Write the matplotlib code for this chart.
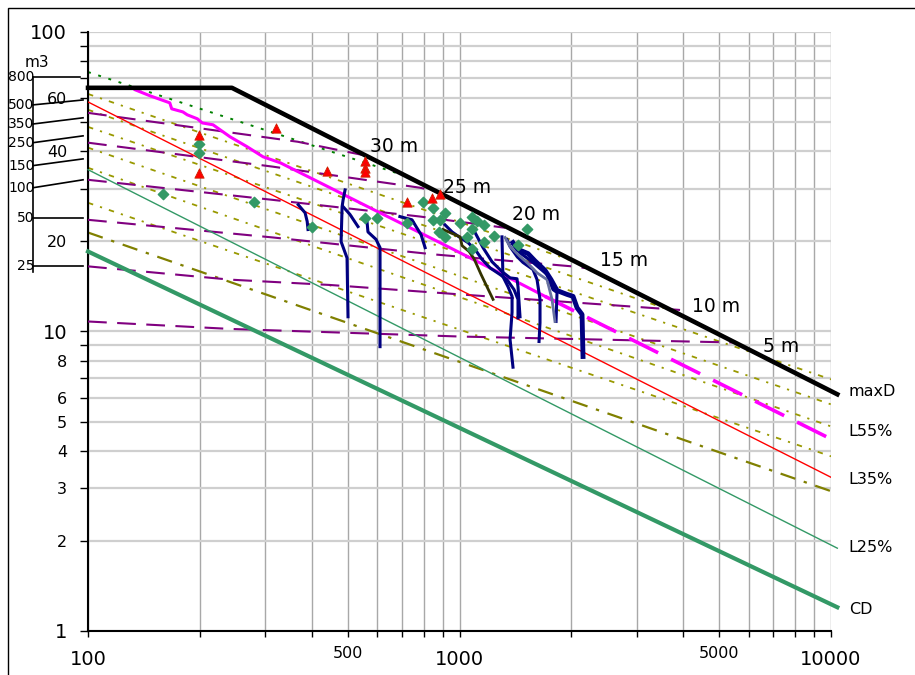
import matplotlib
matplotlib.use("Agg")
import matplotlib.pyplot as plt
import matplotlib.transforms as mtransforms
from matplotlib.patches import Rectangle
from matplotlib.ticker import FixedLocator, FuncFormatter

# ---- envelope / reference lines (x, y on log-log) ----
maxd_x = [100, 244, 10400]
maxd_y = [65.1, 65.1, 6.17]

l55_x = [134, 147, 166, 168, 180, 185, 197, 203, 217, 241, 268, 296, 329, 421, 611, 886, 1208, 1699]
l55_y = [64.1, 61.2, 58.0, 55.4, 54.1, 52.9, 51.3, 49.7, 49.0, 44.7, 41.4, 38.3, 36.6, 31.4, 24.9, 19.8, 16.3, 13.1]
l55_dash_x = [1699, 10400]
l55_dash_y = [13.1, 4.27]

l35_x = [100, 10000]
l35_y = [58.4, 3.26]
l25_x = [100, 10400]
l25_y = [34.7, 1.89]
cd_x = [100, 10400]
cd_y = [18.5, 1.20]

green_dot_x = [100, 714]
green_dot_y = [73.5, 33.1]

# olive percentile lines: start at x=100, end point
olive_y0 = [62.1, 55.0, 48.2, 41.1, 35.2, 26.9]
olive_x1 = [2042, 3750, 10000, 10000, 10000, 10000]
olive_y1 = [17.1, 11.7, 6.92, 5.71, 4.82, 3.83]
olive_dd_x = [100, 10000]
olive_dd_y = [21.4, 2.93]

# depth contours (purple dashed)
depth_names = ["30 m", "25 m", "20 m", "15 m", "10 m", "5 m"]
depth_x = [[100, 367, 546],
           [100, 315, 783, 870],
           [100, 315, 783, 1326],
           [100, 315, 849, 2008, 2177],
           [100, 241, 448, 1003, 3923],
           [100, 241, 1003, 5447]]
depth_y = [[53.7, 43.0, 38.9],
           [42.7, 35.5, 30.2, 29.3],
           [32.1, 27.5, 24.2, 22.2],
           [23.6, 20.6, 18.1, 16.5, 16.3],
           [16.5, 14.9, 14.3, 13.3, 11.8],
           [10.8, 10.2, 9.62, 9.19]]
depth_lab_x = [574, 903, 1385, 2389, 4226, 6561]
depth_lab_y = [41.4, 30.2, 24.5, 17.2, 12.1, 8.9]

# measured traces
traces = [
    ([368, 384, 389, 391], [26.5, 24.9, 23.3, 21.9]),
    ([492, 486, 483, 480, 498, 501], [29.7, 27.5, 26.1, 19.95, 17.6, 11.2]),
    ([486, 507, 533], [26.1, 24.6, 22.4]),
    ([564, 567, 596, 611, 611], [23.1, 21.5, 20.3, 19.05, 8.9]),
    ([691, 745, 764, 788, 808], [24.2, 23.6, 22.4, 21.05, 19.05]),
    ([1301, 1309, 1351, 1385, 1385, 1368, 1393], [20.7, 15.25, 14.1, 13.1, 11.6, 9.4, 7.6]),
    ([914, 955, 1003, 1054, 1101, 1150, 1209, 1285, 1342, 1402, 1437, 1437],
     [22.7, 21.5, 20.6, 19.8, 18.8, 17.4, 16.3, 15.5, 14.9, 13.8, 12.8, 11.1]),
    ([1101, 1157, 1223, 1301, 1368, 1428, 1437, 1455], [21.4, 19.05, 17.1, 15.85, 15.1, 15.0, 14.1, 11.2]),
    ([1342, 1368, 1428, 1482, 1577, 1617, 1647, 1647, 1637], [20.25, 19.2, 17.8, 17.0, 16.1, 14.9, 12.8, 10.7, 9.26]),
    ([1393, 1455, 1577, 1720, 1785, 1830, 1819], [19.5, 18.3, 17.0, 15.5, 13.8, 13.5, 10.8]),
]
trace_olive = ([903, 1003, 1016, 1061, 1094, 1143, 1231], [21.9, 20.7, 19.35, 18.5, 17.5, 15.5, 12.8])
trace_gray = ([1326, 1368, 1455, 1519, 1617, 1720, 1774, 1807], [20.6, 19.2, 17.8, 17.0, 15.7, 14.9, 12.8, 10.8])
trace_thick = ([1393, 1437, 1529, 1597, 1699, 1763, 1830, 1947, 2021, 2072, 2137, 2150],
               [19.8, 18.8, 18.2, 17.2, 16.0, 14.9, 13.7, 13.3, 13.1, 12.0, 11.4, 8.25])

# scatter points
tri_x = [199, 199, 321, 440, 557, 557, 557, 722, 843, 887]
tri_y = [45.4, 33.9, 47.9, 34.4, 37.15, 35.2, 34.1, 27.1, 28.0, 28.8]
dia_x = [199, 199, 159, 280, 401, 557, 600, 722, 798, 849, 849, 887, 914, 881, 914, 1003,
         1048, 1081, 1115, 1081, 1081, 1164, 1164, 1239, 1437, 1519]
dia_y = [42.35, 39.5, 28.8, 27.1, 22.4, 24.0, 24.0, 23.1, 27.1, 25.9, 23.6, 23.6, 24.9, 21.5, 20.6, 23.1,
         20.7, 24.2, 23.3, 22.05, 18.9, 22.6, 19.95, 20.9, 19.5, 22.05]

# left volume scale (m3)
m3_labels = ["800", "500", "350", "250", "150", "100", "50", "25"]
m3_left_y = [70.8, 57.1, 49.3, 42.7, 35.8, 30.2, 24.0, 16.5]
m3_right_y = [70.8, 59.3, 51.7, 45.0, 37.7, 32.1, 24.0, 16.5]

# axis tick labels
y_major = [1, 10, 100]
y_minor = [2, 3, 4, 5, 6, 7, 8, 9, 20, 30, 40, 50, 60, 70, 80, 90]
y_minor_shown = [2, 3, 4, 5, 6, 8, 20, 40, 60]
x_major = [100, 1000, 10000]
x_minor = [200, 300, 400, 500, 600, 700, 800, 900, 2000, 3000, 4000, 5000, 6000, 7000, 8000, 9000]
x_minor_shown = [500, 5000]

right_names = ["maxD", "L55%", "L35%", "L25%", "CD"]
right_y = [6.31, 4.64, 3.21, 1.905, 1.18]

fig = plt.figure(figsize=(9.15, 6.75), dpi=100)
ax = fig.add_axes([0.0962, 0.0652, 0.812, 0.8874])
ax.set_xscale("log")
ax.set_yscale("log")
ax.set_xlim(100, 10000)
ax.set_ylim(1, 100)

ax.grid(which="both", axis="x", color="#a8a8a8", lw=1.0, zorder=0)
ax.grid(which="both", axis="y", color="#cfcfcf", lw=1.6, zorder=0)
ax.set_axisbelow(True)
for s in ["top", "right"]:
    ax.spines[s].set_visible(False)
ax.spines["left"].set_linewidth(1.5)
ax.spines["bottom"].set_linewidth(1.5)

# olive lines
for y0, x1, y1 in zip(olive_y0, olive_x1, olive_y1):
    ax.plot([100, x1], [y0, y1], color="#999900", lw=1.3, ls=(0, (3, 4, 1.2, 4)), zorder=2)
ax.plot(olive_dd_x, olive_dd_y, color="#808000", lw=1.6, ls=(0, (7, 4, 1.5, 4)), zorder=2)
ax.plot(green_dot_x, green_dot_y, color="#008000", lw=1.4, ls=(0, (1.5, 4)), zorder=2)

for xs, ys in zip(depth_x, depth_y):
    ax.plot(xs, ys, color="#800080", lw=1.5, ls=(0, (9, 5)), zorder=3)

ax.plot(l35_x, l35_y, color="#ff0000", lw=1.0, zorder=3)
ax.plot(l25_x, l25_y, color="#339966", lw=1.0, zorder=3, clip_on=False)
ax.plot(cd_x, cd_y, color="#339966", lw=3.0, zorder=3, clip_on=False)
ax.plot(l55_x, l55_y, color="#ff00ff", lw=2.2, zorder=4)
ax.plot(l55_dash_x, l55_dash_y, color="#ff00ff", lw=2.6, ls=(0, (9, 4)), zorder=4, clip_on=False)

for xs, ys in traces:
    ax.plot(xs, ys, color="#000080", lw=2.2, zorder=5)
ax.plot(*trace_olive, color="#333300", lw=2.0, zorder=5)
ax.plot(*trace_gray, color="#6670a0", lw=2.0, zorder=5)
ax.plot(*trace_thick, color="#000080", lw=3.5, zorder=5)

ax.plot(maxd_x, maxd_y, color="black", lw=3.3, zorder=6, clip_on=False)

ax.scatter(dia_x, dia_y, marker="D", s=28, color="#339966", zorder=7)
ax.scatter(tri_x, tri_y, marker="^", s=45, color="#ff0000", edgecolors="#cc2200", lw=0.6, zorder=7)

for name, x, y in zip(depth_names, depth_lab_x, depth_lab_y):
    ax.text(x, y, name, fontsize=13.5, va="center", ha="left", zorder=8)

# ticks
ax.yaxis.set_major_locator(FixedLocator(y_major))
ax.yaxis.set_minor_locator(FixedLocator(y_minor))
ax.yaxis.set_major_formatter(FuncFormatter(lambda v, p: "%g" % v))
ax.yaxis.set_minor_formatter(FuncFormatter(lambda v, p: "%g" % v if round(v) in y_minor_shown else ""))
ax.xaxis.set_major_locator(FixedLocator(x_major))
ax.xaxis.set_minor_locator(FixedLocator(x_minor))
ax.xaxis.set_major_formatter(FuncFormatter(lambda v, p: "%g" % v))
ax.xaxis.set_minor_formatter(FuncFormatter(lambda v, p: "%g" % v if round(v) in x_minor_shown else ""))
ax.tick_params(axis="y", which="both", length=6, width=1, pad=9)
ax.tick_params(axis="y", which="major", labelsize=14)
ax.tick_params(axis="y", which="minor", labelsize=11.5)
ax.tick_params(axis="x", which="both", length=4.5, width=1, pad=9)
ax.tick_params(axis="x", which="major", labelsize=14)
ax.tick_params(axis="x", which="minor", labelsize=11.5, pad=6)

# left m3 scale
blend = mtransforms.blended_transform_factory(ax.transAxes, ax.transData)
ax.plot([-0.074, -0.074], [m3_left_y[0], 15.85], color="black", lw=1.2, transform=blend, clip_on=False)
for lab, yl, yr in zip(m3_labels, m3_left_y, m3_right_y):
    xr = -0.0105 if lab == "800" else -0.0067
    ax.plot([-0.074, xr], [yl, yr], color="black", lw=1.2, transform=blend, clip_on=False)
    ax.text(-0.072, yl, lab, fontsize=10, ha="right", va="center", transform=blend)
ax.text(-0.085, 78.8, "m3", fontsize=11, ha="left", va="center", transform=blend)

for name, y in zip(right_names, right_y):
    ax.text(1.024, y, name, fontsize=11.5, ha="left", va="center", transform=blend)

fig.patches.append(Rectangle((8 / 915, -0.05), 1.2, 1 - 8 / 675 + 0.05, transform=fig.transFigure,
                             fill=False, ec="black", lw=1.0))

fig.savefig("out.png", dpi=100)
